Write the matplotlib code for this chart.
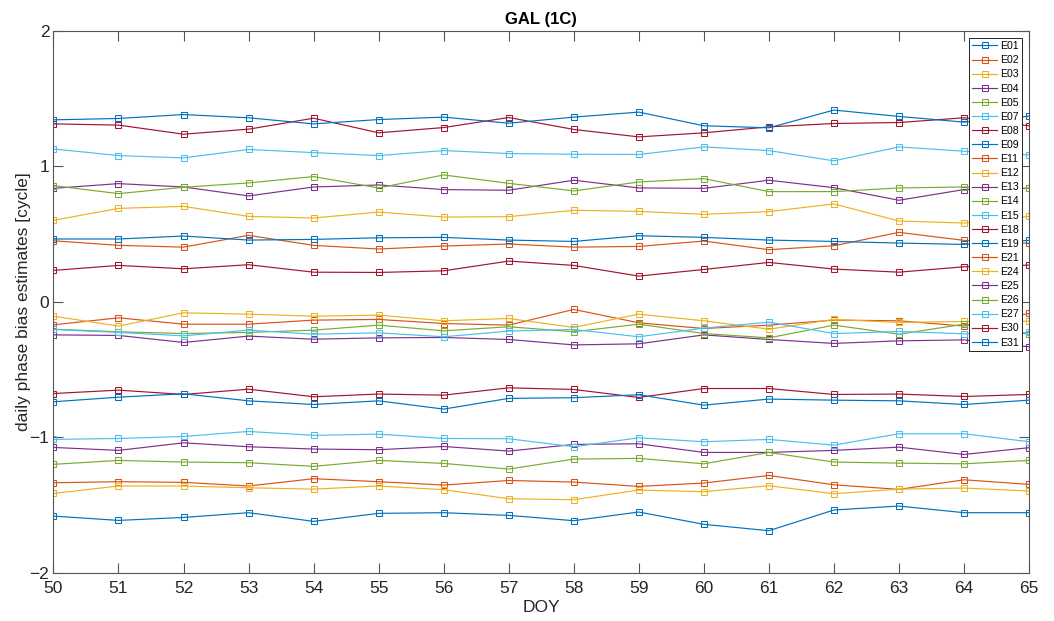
import matplotlib.pyplot as plt

# day of year
doy = list(range(50, 66))

# daily phase bias estimates [cycle] per satellite
e01 = [-1.582, -1.614, -1.592, -1.557, -1.621, -1.562, -1.557, -1.577,
       -1.616, -1.552, -1.643, -1.690, -1.537, -1.508, -1.557, -1.557]
e02 = [0.451, 0.417, 0.404, 0.491, 0.417, 0.390, 0.412, 0.427,
       0.404, 0.409, 0.449, 0.385, 0.414, 0.513, 0.454, 0.432]
e03 = [0.602, 0.690, 0.705, 0.631, 0.619, 0.663, 0.626, 0.629,
       0.676, 0.668, 0.646, 0.666, 0.723, 0.597, 0.582, 0.631]
e04 = [0.838, 0.873, 0.848, 0.782, 0.848, 0.863, 0.829, 0.824,
       0.898, 0.841, 0.838, 0.898, 0.843, 0.750, 0.829, 0.838]
e05 = [0.858, 0.799, 0.846, 0.878, 0.925, 0.841, 0.937, 0.875,
       0.819, 0.885, 0.910, 0.814, 0.814, 0.841, 0.848, 0.838]
e07 = [1.129, 1.080, 1.063, 1.125, 1.102, 1.080, 1.117, 1.095,
       1.090, 1.088, 1.144, 1.117, 1.041, 1.144, 1.112, 1.085]
e08 = [1.314, 1.305, 1.238, 1.275, 1.356, 1.248, 1.287, 1.361,
       1.273, 1.218, 1.248, 1.292, 1.317, 1.324, 1.359, 1.300]
e09 = [1.344, 1.354, 1.383, 1.359, 1.314, 1.346, 1.364, 1.319,
       1.364, 1.401, 1.300, 1.285, 1.416, 1.369, 1.327, 1.371]
e11 = [-0.170, -0.118, -0.165, -0.165, -0.135, -0.130, -0.160, -0.172,
       -0.056, -0.155, -0.197, -0.172, -0.135, -0.140, -0.179, -0.086]
e12 = [-0.106, -0.179, -0.081, -0.091, -0.106, -0.098, -0.140, -0.123,
       -0.189, -0.091, -0.140, -0.202, -0.130, -0.152, -0.145, -0.143]
e13 = [-0.244, -0.248, -0.300, -0.253, -0.276, -0.266, -0.263, -0.278,
       -0.318, -0.310, -0.244, -0.278, -0.307, -0.288, -0.281, -0.332]
e14 = [-0.202, -0.221, -0.234, -0.226, -0.209, -0.172, -0.214, -0.184,
       -0.221, -0.165, -0.234, -0.266, -0.172, -0.239, -0.165, -0.239]
e15 = [-0.204, -0.226, -0.251, -0.209, -0.239, -0.229, -0.258, -0.216,
       -0.204, -0.258, -0.194, -0.150, -0.234, -0.219, -0.236, -0.226]
e18 = [0.232, 0.269, 0.244, 0.274, 0.219, 0.217, 0.229, 0.301,
       0.269, 0.190, 0.239, 0.291, 0.242, 0.219, 0.259, 0.271]
e19 = [0.464, 0.464, 0.486, 0.456, 0.461, 0.473, 0.476, 0.456,
       0.446, 0.488, 0.476, 0.456, 0.446, 0.434, 0.424, 0.454]
e21 = [-1.336, -1.328, -1.333, -1.360, -1.306, -1.328, -1.353, -1.319,
       -1.331, -1.363, -1.338, -1.282, -1.351, -1.385, -1.314, -1.348]
e24 = [-1.415, -1.360, -1.360, -1.373, -1.383, -1.360, -1.387, -1.454,
       -1.461, -1.390, -1.402, -1.358, -1.417, -1.383, -1.375, -1.397]
e25 = [-1.075, -1.097, -1.041, -1.070, -1.087, -1.092, -1.068, -1.102,
       -1.053, -1.048, -1.112, -1.112, -1.097, -1.073, -1.127, -1.077]
e26 = [-1.200, -1.171, -1.183, -1.188, -1.215, -1.171, -1.193, -1.235,
       -1.161, -1.156, -1.196, -1.112, -1.183, -1.191, -1.196, -1.171]
e27 = [-1.016, -1.009, -0.994, -0.957, -0.986, -0.977, -1.009, -1.011,
       -1.070, -1.004, -1.033, -1.016, -1.058, -0.974, -0.974, -1.033]
e30 = [-0.677, -0.652, -0.684, -0.645, -0.701, -0.681, -0.689, -0.635,
       -0.647, -0.706, -0.640, -0.640, -0.684, -0.681, -0.699, -0.684]
e31 = [-0.738, -0.704, -0.679, -0.731, -0.758, -0.731, -0.792, -0.713,
       -0.708, -0.686, -0.763, -0.718, -0.726, -0.731, -0.758, -0.726]

prns = ['E01', 'E02', 'E03', 'E04', 'E05', 'E07', 'E08', 'E09', 'E11', 'E12', 'E13',
        'E14', 'E15', 'E18', 'E19', 'E21', 'E24', 'E25', 'E26', 'E27', 'E30', 'E31']
biases = [e01, e02, e03, e04, e05, e07, e08, e09, e11, e12, e13,
          e14, e15, e18, e19, e21, e24, e25, e26, e27, e30, e31]

# default colour order, cycled over the satellites
color_order = ['#0072BD', '#D95319', '#EDB120', '#7E2F8E', '#77AC30', '#4DBEEE', '#A2142F']

plt.rcParams['font.family'] = ['Liberation Sans', 'DejaVu Sans']
text_grey = '#262626'
axis_grey = '#555555'

fig = plt.figure(figsize=(10.54, 6.21), dpi=100)
ax = fig.add_axes([0.0507, 0.0778, 0.9256, 0.8723])

for i, (prn, vals) in enumerate(zip(prns, biases)):
    c = color_order[i % len(color_order)]
    ax.plot(doy, vals, '-s', color=c, linewidth=0.85, markersize=4,
            markerfacecolor='none', markeredgewidth=0.75, label=prn)

ax.set_xlim(50, 65)
ax.set_ylim(-2, 2)
ax.set_xticks(doy)
ax.set_yticks([-2, -1, 0, 1, 2])

ax.set_title('GAL (1C)', fontsize=12, fontweight='bold', pad=5)
ax.set_xlabel('DOY', fontsize=12.5, color=text_grey, labelpad=3)
ax.set_ylabel('daily phase bias estimates [cycle]', fontsize=12.5, color=text_grey)
ax.yaxis.set_label_coords(-0.0235, 0.5)

ax.tick_params(direction='in', length=7, width=0.8, color=axis_grey, labelcolor=text_grey,
               labelsize=12.5, top=True, right=True)
ax.tick_params(axis='x', pad=6)
ax.tick_params(axis='y', pad=3)
for sp in ax.spines.values():
    sp.set_color(axis_grey)
    sp.set_linewidth(0.8)

leg = ax.legend(loc='upper right', bbox_to_anchor=(1 - 7 / 975.6, 1 - 7 / 541.7),
                borderaxespad=0, fontsize=7.6, handlelength=2.4, handletextpad=0.25,
                labelspacing=0.39, borderpad=0.3, fancybox=False, framealpha=1,
                edgecolor='black')
leg.get_frame().set_linewidth(0.6)

plt.savefig('out.png', dpi=100)
